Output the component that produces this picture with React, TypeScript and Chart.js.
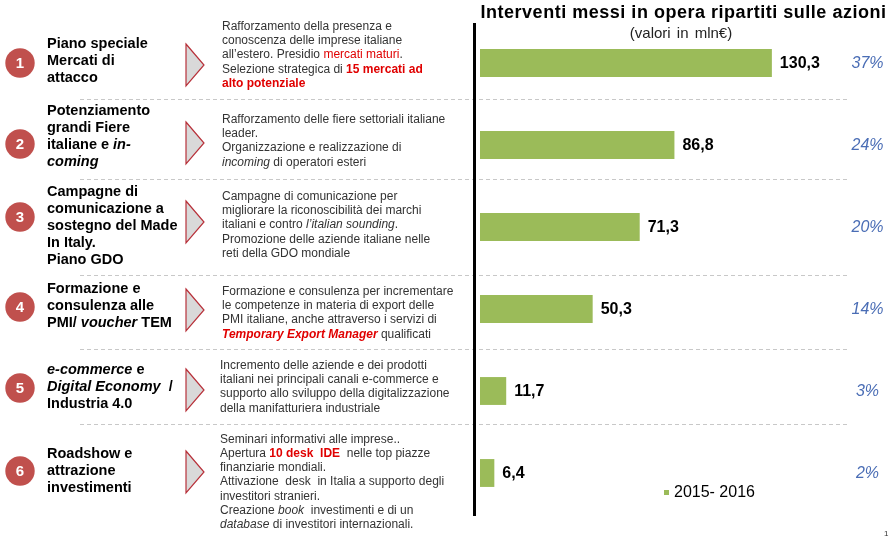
import React, { useEffect, useRef } from "react";
import { Chart, registerables } from "chart.js";

Chart.register(...registerables);

// ---------- DATA ----------
const CATEGORIES = [
  "Piano speciale Mercati di attacco",
  "Potenziamento grandi Fiere italiane e in-coming",
  "Campagne di comunicazione a sostegno del Made In Italy. Piano GDO",
  "Formazione e consulenza alle PMI/ voucher TEM",
  "e-commerce e Digital Economy / Industria 4.0",
  "Roadshow e attrazione investimenti",
];
const VALUES = [130.3, 86.8, 71.3, 50.3, 11.7, 6.4];
const SHARES = ["37%", "24%", "20%", "14%", "3%", "2%"];
const SERIES_LABEL = "2015- 2016";
const CHART_TITLE = "Interventi messi in opera ripartiti sulle azioni";
const CHART_SUBTITLE = "(valori in mln€)";

// markup: *italic*  #red bold#  ~red~
const TITLE_LINES = [
  ["Piano speciale", "Mercati di", "attacco"],
  ["Potenziamento", "grandi Fiere", "italiane e *in-*", "*coming*"],
  ["Campagne di", "comunicazione a", "sostegno del Made", "In Italy.", "Piano GDO"],
  ["Formazione e", "consulenza alle", "PMI/ *voucher* TEM"],
  ["*e-commerce* e", "*Digital Economy*  /", "Industria 4.0"],
  ["Roadshow e", "attrazione", "investimenti"],
];
const DESC_LINES = [
  [
    "Rafforzamento della presenza e",
    "conoscenza delle imprese italiane",
    "all’estero. Presidio ~mercati maturi~.",
    "Selezione strategica di #15 mercati ad#",
    "#alto potenziale#",
  ],
  [
    "Rafforzamento delle fiere settoriali italiane",
    "leader.",
    "Organizzazione e realizzazione di",
    "*incoming* di operatori esteri",
  ],
  [
    "Campagne di comunicazione per",
    "migliorare la riconoscibilità dei marchi",
    "italiani e contro *l’italian sounding*.",
    "Promozione delle aziende italiane nelle",
    "reti della GDO mondiale",
  ],
  [
    "Formazione e consulenza per incrementare",
    "le competenze in materia di export delle",
    "PMI italiane, anche attraverso i servizi di",
    "#*Temporary Export Manager*# qualificati",
  ],
  [
    "Incremento delle aziende e dei prodotti",
    "italiani nei principali canali e-commerce e",
    "supporto allo sviluppo della digitalizzazione",
    "della manifatturiera industriale",
  ],
  [
    "Seminari informativi alle imprese..",
    "Apertura #10 desk  IDE#  nelle top piazze",
    "finanziarie mondiali.",
    "Attivazione  desk  in Italia a supporto degli",
    "investitori stranieri.",
    "Creazione *book*  investimenti e di un",
    "*database* di investitori internazionali.",
  ],
];

// ---------- LAYOUT / STYLE ----------
const FONT = '"Liberation Sans", Arial, sans-serif';
const GREEN = "#9BBB59";
const CIRCLE_RED = "#C0504D";
const TEXT_RED = "#E00000";
const SHARE_BLUE = "#4A6DB5";
const DESC_COLOR = "#333333";
const CIRCLE_DY = [0, -1, -10, -2, -3, -2];
const TRI_DY = [2, -2, -5, 1, -1, -1];
const TITLE_DY = [-2, -9, -1, -3, -4, -2];
const DESC_DY = [-8, -4, -2, 4, -4, 9];
const DESC_X = [222, 222, 222, 222, 220, 220];
const SEPARATOR_Y = [99, 179, 275, 349, 424];

function drawRich(
  ctx: CanvasRenderingContext2D,
  line: string,
  x: number,
  y: number,
  size: number,
  color: string,
  bold: boolean
) {
  let cx = x;
  let italic = false;
  let red = false;
  let redBold = false;
  let buf = "";
  const flush = () => {
    if (!buf) return;
    const b = bold || redBold;
    ctx.font = `${italic ? "italic " : ""}${b ? "bold " : ""}${size}px ${FONT}`;
    ctx.fillStyle = red || redBold ? TEXT_RED : color;
    ctx.fillText(buf, cx, y);
    cx += ctx.measureText(buf).width;
    buf = "";
  };
  for (const ch of line) {
    if (ch === "*") {
      flush();
      italic = !italic;
    } else if (ch === "#") {
      flush();
      redBold = !redBold;
    } else if (ch === "~") {
      flush();
      red = !red;
    } else buf += ch;
  }
  flush();
}

const overlayPlugin = {
  id: "overlay",
  beforeDatasetsDraw(chart: any) {
    const ctx: CanvasRenderingContext2D = chart.ctx;
    const area = chart.chartArea;
    ctx.save();
    ctx.strokeStyle = "#C8C8C8";
    ctx.lineWidth = 1;
    ctx.setLineDash([4, 3]);
    for (const y of SEPARATOR_Y) {
      ctx.beginPath();
      ctx.moveTo(80, y + 0.5);
      ctx.lineTo(848, y + 0.5);
      ctx.stroke();
    }
    ctx.setLineDash([]);
    ctx.fillStyle = "#000";
    ctx.fillRect(473, area.top + 1, 3, area.bottom - area.top + 1);
    ctx.restore();
  },
  afterDatasetsDraw(chart: any) {
    const ctx: CanvasRenderingContext2D = chart.ctx;
    const ys = chart.scales.y;
    const xs = chart.scales.x;
    ctx.save();

    // title
    ctx.textBaseline = "middle";
    ctx.textAlign = "center";
    ctx.fillStyle = "#000";
    ctx.font = `bold 18px ${FONT}`;
    const w = ctx.measureText(CHART_TITLE).width;
    const target = 406;
    (ctx as any).letterSpacing = `${((target - w) / CHART_TITLE.length).toFixed(2)}px`;
    ctx.fillText(CHART_TITLE, 683.5, 13);
    (ctx as any).letterSpacing = "0px";
    ctx.font = `15px ${FONT}`;
    ctx.fillStyle = "#222";
    (ctx as any).wordSpacing = "2px";
    ctx.fillText(CHART_SUBTITLE, 681, 33.5);
    (ctx as any).wordSpacing = "0px";

    CATEGORIES.forEach((_c, i) => {
      const yc = ys.getPixelForValue(i);

      // numbered circle
      const cy = yc + CIRCLE_DY[i];
      ctx.beginPath();
      ctx.arc(20, cy, 14.7, 0, Math.PI * 2);
      ctx.fillStyle = CIRCLE_RED;
      ctx.fill();
      ctx.fillStyle = "#fff";
      ctx.font = `bold 15px ${FONT}`;
      ctx.textAlign = "center";
      ctx.fillText(String(i + 1), 20, cy + 1);

      // chevron triangle
      const ty = yc + TRI_DY[i];
      ctx.beginPath();
      ctx.moveTo(186, ty - 21);
      ctx.lineTo(204, ty);
      ctx.lineTo(186, ty + 21);
      ctx.closePath();
      ctx.fillStyle = "#D9D9D9";
      ctx.fill();
      ctx.strokeStyle = "#B8313A";
      ctx.lineWidth = 1.2;
      ctx.stroke();

      // title lines
      ctx.textAlign = "left";
      const tl = TITLE_LINES[i];
      const tlh = 17;
      const t0 = yc + TITLE_DY[i] - ((tl.length - 1) * tlh) / 2;
      tl.forEach((ln, k) => drawRich(ctx, ln, 47, t0 + k * tlh, 14.5, "#000", true));

      // description lines
      const dl = DESC_LINES[i];
      const dlh = 14.2;
      const d0 = yc + DESC_DY[i] - ((dl.length - 1) * dlh) / 2;
      dl.forEach((ln, k) => drawRich(ctx, ln, DESC_X[i], d0 + k * dlh, 12, DESC_COLOR, false));

      // value label
      const xEnd = xs.getPixelForValue(VALUES[i]);
      ctx.font = `bold 16px ${FONT}`;
      ctx.fillStyle = "#000";
      ctx.textAlign = "left";
      ctx.fillText(String(VALUES[i]).replace(".", ","), xEnd + 8, yc + 1);

      // share
      ctx.font = `italic 16px ${FONT}`;
      ctx.fillStyle = SHARE_BLUE;
      ctx.textAlign = "center";
      ctx.fillText(SHARES[i], 867.5, yc + 1);
    });

    // legend
    ctx.fillStyle = GREEN;
    ctx.fillRect(664, 490, 5, 5);
    ctx.fillStyle = "#000";
    ctx.font = `16px ${FONT}`;
    ctx.textAlign = "left";
    ctx.fillText(SERIES_LABEL, 674, 493);

    // page number
    ctx.font = `8px ${FONT}`;
    ctx.fillStyle = "#333";
    ctx.fillText("1", 884, 534);

    ctx.restore();
  },
};

export default function App() {
  const ref = useRef<HTMLCanvasElement | null>(null);
  useEffect(() => {
    if (!ref.current) return;
    const chart = new Chart(ref.current, {
      type: "bar",
      data: {
        labels: CATEGORIES,
        datasets: [
          {
            label: SERIES_LABEL,
            data: VALUES,
            backgroundColor: GREEN,
            borderWidth: 0,
            barPercentage: 0.34,
            categoryPercentage: 1,
          },
        ],
      },
      options: {
        indexAxis: "y",
        animation: false,
        responsive: true,
        maintainAspectRatio: false,
        layout: { padding: { left: 480, right: 74, top: 22, bottom: 27 } },
        scales: {
          x: { display: false, min: 0, max: 150 },
          y: { display: false },
        },
        plugins: {
          legend: { display: false },
          tooltip: { enabled: false },
          title: { display: false },
        },
      },
      plugins: [overlayPlugin],
    });
    return () => chart.destroy();
  }, []);
  return (
    <div style={{ position: "absolute", left: 0, top: 0, width: 890, height: 541, background: "#fff" }}>
      <canvas ref={ref} />
    </div>
  );
}
